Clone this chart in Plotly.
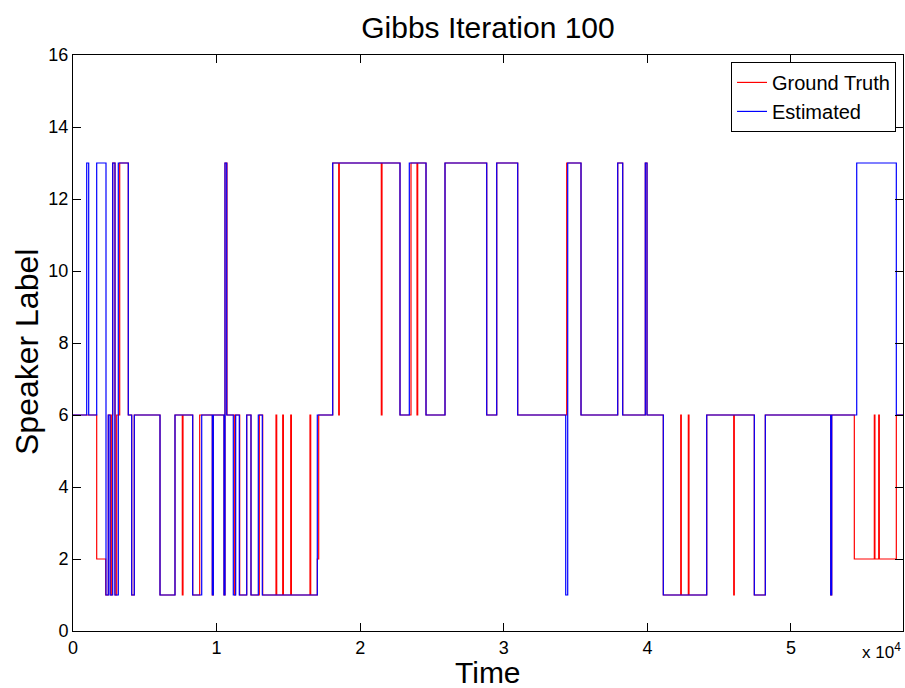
import plotly.graph_objects as go

# Change points (time) and speaker label held from that time on
truth_t = [0, 1650, 2277, 2458, 2625, 2716, 2765, 2925, 3043, 3252, 3851, 4088, 4269,
           6059, 7103, 7612, 7660, 8336, 8823, 9701, 9770, 10516, 10585, 10724, 11261,
           11302, 11609, 12097, 12396, 12974, 13211, 14137, 14186, 14603, 14651, 15161,
           15209, 16504, 16553, 17013, 17110, 18085, 18503, 18545, 21470, 21519, 22772,
           23538, 23956, 24005, 24583, 25906, 28810, 29507, 30969, 34381, 35377, 37933,
           38281, 39855, 39973, 41108, 42320, 42362, 42850, 42897, 44131, 46011, 46053,
           47446, 48212, 52766, 52836, 54410, 55803, 55845, 56109, 56151, 57335, 57800]
truth_y = [6, 2, 1, 6, 1, 6, 13, 1, 6, 13, 6, 1, 6,
           1, 6, 1, 6, 1, 6, 1, 6, 1, 13, 6, 1,
           6, 1, 6, 1, 6, 1, 6, 1, 6, 1, 6,
           1, 6, 1, 2, 6, 13, 6, 13, 6, 13, 6,
           13, 6, 13, 6, 13, 6, 13, 6, 13, 6, 13,
           6, 13, 6, 1, 6, 1, 6, 1, 6, 1, 6,
           1, 6, 1, 6, 2, 6, 2, 6, 2, 6, 6]

est_t = [0, 954, 1093, 1650, 2298, 2458, 2577, 2765, 2925, 3155, 3851, 4088, 4269,
         6059, 7103, 8336, 8963, 9701, 9770, 10516, 10585, 10704, 11163, 11330, 11581,
         12097, 12396, 12904, 13183, 17013, 18085, 22772, 23420, 24583, 25906, 28810,
         29507, 30969, 34312, 34451, 35377, 37933, 38281, 39855, 39973, 41108, 44131,
         47446, 48212, 52766, 52836, 54577, 57335, 57800]
est_y = [6, 13, 6, 13, 1, 6, 1, 13, 1, 13, 6, 1, 6,
         1, 6, 1, 6, 1, 6, 1, 13, 6, 1, 6, 1,
         6, 1, 6, 1, 6, 13, 6, 13, 6, 13, 6,
         13, 6, 1, 13, 6, 13, 6, 13, 6, 1, 6,
         1, 6, 1, 6, 13, 6, 6]

x_tickvals = [0, 10000, 20000, 30000, 40000, 50000]
x_ticktext = ["0", "1", "2", "3", "4", "5"]
y_tickvals = [0, 2, 4, 6, 8, 10, 12, 14, 16]

FONT = "Liberation Sans, Arial, Helvetica, sans-serif"

fig = go.Figure()
fig.add_trace(go.Scatter(x=truth_t, y=truth_y, mode="lines", name="Ground Truth",
                         line=dict(color="#ff0000", width=1.2, shape="hv")))
fig.add_trace(go.Scatter(x=est_t, y=est_y, mode="lines", name="Estimated",
                         line=dict(color="#0000ff", width=1.2, shape="hv")))

axis_common = dict(showline=True, linecolor="black", linewidth=1, mirror="ticks",
                   ticks="inside", ticklen=8, tickcolor="black", tickwidth=1,
                   showgrid=False, zeroline=False,
                   tickfont=dict(family=FONT, size=18, color="black"))

fig.update_xaxes(range=[0, 57800], tickvals=x_tickvals, ticktext=x_ticktext, **axis_common)
fig.update_yaxes(range=[0, 16], tickvals=y_tickvals, **axis_common)

fig.update_layout(
    width=905, height=688,
    margin=dict(l=73, r=2, t=55, b=57),
    paper_bgcolor="white", plot_bgcolor="white",
    title=dict(text="Gibbs Iteration 100", x=0.5, xref="paper", xanchor="center",
               y=1 - 27 / 688, yref="container", yanchor="middle",
               font=dict(family=FONT, size=30, color="black")),
    legend=dict(x=0.9916, y=0.988, xanchor="right", yanchor="top",
                bgcolor="white", bordercolor="black", borderwidth=1,
                font=dict(family=FONT, size=20, color="black"),
                itemwidth=30, tracegroupgap=0),
    showlegend=True,
    annotations=[
        dict(text="Time", xref="paper", yref="paper", x=0.5, y=-(672 - 631) / 576,
             xanchor="center", yanchor="middle", showarrow=False,
             font=dict(family=FONT, size=30, color="black")),
        dict(text="Speaker Label", xref="paper", yref="paper", x=-(73 - 27) / 830,
             y=(631 - 352) / 576,
             xanchor="center", yanchor="middle", textangle=-90, showarrow=False,
             font=dict(family=FONT, size=32, color="black")),
        dict(text="x 10<sup>4</sup>", xref="paper", yref="paper", x=1.0, y=-(651 - 631) / 576,
             xanchor="right", yanchor="middle", showarrow=False,
             font=dict(family=FONT, size=17, color="black")),
    ],
)

fig.write_html("out.html")
